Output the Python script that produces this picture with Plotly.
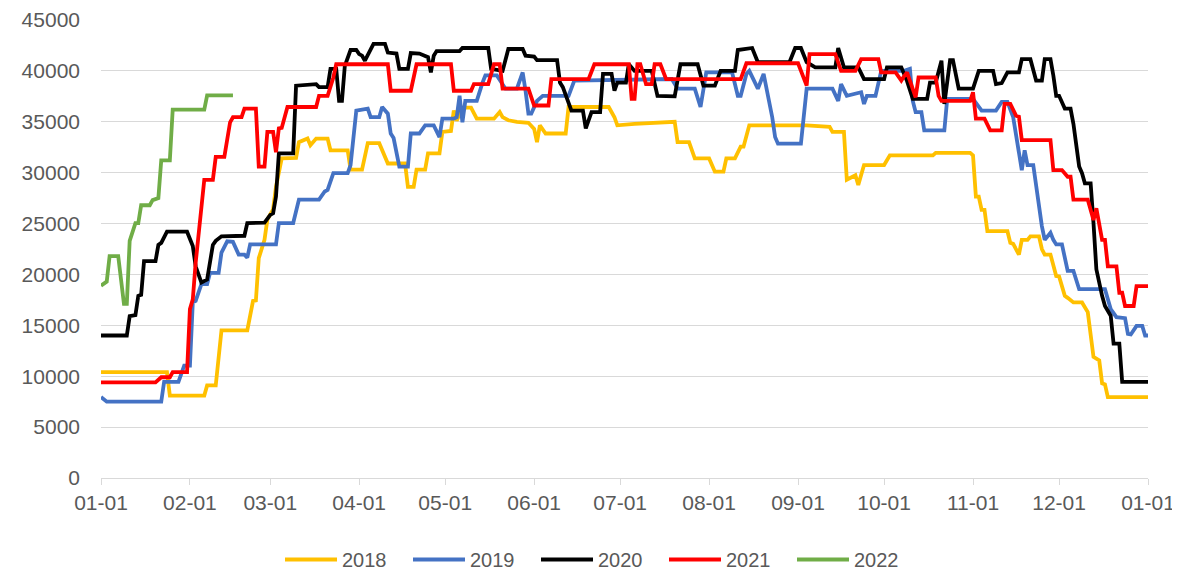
import plotly.graph_objects as go

# ---- data (day of year offset from 01-01, values) ----
month_days = [0, 31, 59, 90, 120, 151, 181, 212, 243, 273, 304, 334, 365]
month_labels = ["01-01", "02-01", "03-01", "04-01", "05-01", "06-01", "07-01",
                "08-01", "09-01", "10-01", "11-01", "12-01", "01-01"]

d2018 = [0,23,24,36,37,40,42,51,53,54,55,57,58,60,61,63,68,69,72,73,75,79,80,86,87,91,93,97,100,106,107,109,110,113,114,118,119,
         122,123,124,126,129,131,137,139,140,142,145,149,151,152,153,155,162,163,169,174,177,179,180,186,196,200,201,205,207,212,214,217,218,
         221,223,224,226,246,254,255,259,260,263,264,266,273,275,290,291,303,304,305,306,307,308,309,316,317,318,320,321,323,324,
         327,328,329,331,333,334,336,337,339,342,344,346,348,349,350,351,365]
v2018 = [10400,10400,8100,8100,9100,9100,14500,14500,17400,17450,21600,23400,25400,26400,28600,31400,31450,33000,33350,32700,
         33350,33350,32200,32200,30300,30300,32900,32900,30900,30900,28600,28600,30300,30300,31900,31900,34000,34100,36100,35100,
         36400,36400,35300,35300,35950,35450,35150,35000,34900,34300,33000,34650,33850,33850,36450,36450,36500,36450,35450,34650,
         34800,35000,35000,33000,33000,31400,31400,30100,30100,31400,31400,32550,32550,34650,34650,34500,34000,34000,29300,29750,
         28800,30750,30750,31700,31700,31950,31950,31700,27650,27650,26350,26350,24250,24250,23100,23000,21950,23400,23400,23750,
         23750,22500,21950,21950,19850,19800,17900,17700,17250,17250,16300,11900,11550,9300,9200,7950,7950]

d2019 = [0,2,21,22,27,29,31,32,33,35,37,38,41,42,44,46,48,50,51,52,61,62,67,69,76,78,79,81,86,87,89,93,94,97,98,100,101,102,104,107,
         108,111,113,116,118,119,123,124,125,126,127,131,133,134,138,141,145,147,148,149,150,152,154,163,165,199,201,207,209,210,
         211,220,222,223,225,226,229,231,232,234,235,236,244,246,255,257,258,260,265,266,267,270,272,280,282,283,284,286,287,294,
         295,304,307,312,314,316,318,320,321,322,323,325,327,328,329,331,332,333,335,337,339,341,350,352,354,357,358,359,361,363,364,365]
v2019 = [7950,7500,7500,9450,9450,11050,11050,17250,17400,19050,19050,20150,20150,22150,23250,23200,21950,21950,21650,22950,
         22950,25050,25050,27350,27350,28150,28300,29950,29950,30750,36100,36300,35450,35450,36450,35800,33850,33400,30600,30600,
         33850,33850,34650,34650,33500,35300,35300,35450,37550,34950,37050,37050,38850,39550,39550,38250,38250,39850,38050,35800,
         35800,37050,37550,37550,39050,39200,38250,38250,36450,38400,39850,39850,37550,37550,39700,40000,38250,39700,38400,35450,
         33500,32850,32850,38250,38250,37050,38700,37550,37900,36750,37550,37550,40000,40000,40200,37050,35950,35950,34150,34150,
         37250,37250,36100,36100,36950,36950,35450,32200,30250,32200,30750,30750,26700,24750,23400,24100,23400,22950,22950,20350,
         20350,18550,18550,16600,15800,15700,14150,14100,14950,14950,14000,14000]

d2020 = [0,9,10,12,13,14,15,19,20,21,23,30,32,33,35,37,39,40,42,50,51,54,57,59,60,61,62,67,68,75,76,79,80,82,83,84,85,87,89,90,
         91,92,95,99,100,103,104,107,108,111,114,115,116,117,125,126,135,136,140,142,147,148,151,152,159,160,161,164,168,169,
         171,174,175,178,179,180,183,184,186,192,194,200,202,208,210,214,216,221,222,227,229,240,242,244,246,249,256,257,259,264,
         266,273,274,279,281,283,288,289,291,293,294,296,297,299,304,306,311,312,314,316,320,321,324,326,328,329,331,332,333,334,
         336,338,339,341,342,343,345,346,347,349,350,352,353,355,356,365]
v2020 = [14000,14000,15900,16000,17900,18000,21300,21300,22900,23100,24200,24200,22800,20800,19200,19500,22900,23300,23750,23800,
         25050,25100,25100,25850,26000,27650,31900,31900,38550,38700,38400,38400,40200,40200,37050,37050,40500,42050,42050,41650,
         41500,41000,42650,42650,41800,41700,40200,40200,41750,41700,41350,39850,41500,41950,41950,42250,42250,40200,40000,42150,
         42150,41500,41400,41050,41050,38850,38400,36100,36100,34350,35950,35950,39700,39700,38050,38850,38850,40650,40000,40000,
         37550,37500,40650,40650,38550,38550,40000,40000,42050,42250,40850,40850,42250,42250,40850,40350,40350,42250,40350,40350,
         39200,39200,40350,40350,39000,37250,37250,38850,38850,41000,36750,41050,41050,38250,38250,40000,40000,38700,38800,39850,
         39850,41150,41150,39050,39050,41150,41150,39550,37550,37550,36300,36300,34800,30600,29950,28950,28950,25050,20500,17900,
         16900,15950,13200,13200,9450,9450]

d2021 = [0,19,21,24,25,30,31,32,33,35,36,39,40,43,45,46,49,50,54,55,57,58,60,61,62,63,65,75,76,79,81,82,100,101,108,110,122,123,129,130,
         135,137,139,140,149,151,156,157,170,172,184,185,186,187,188,190,192,193,195,197,223,225,243,246,247,256,258,263,265,271,
         272,277,279,280,281,284,285,291,292,293,303,304,305,308,310,314,315,317,319,320,321,331,332,335,337,338,339,344,346,347,
         349,350,351,354,355,356,357,360,361,365]
v2021 = [9400,9400,9900,9900,10400,10400,16600,17550,21150,27000,29300,29300,31550,31550,34950,35450,35450,36300,36300,30600,
         30600,34000,34000,32000,34350,34400,36450,36450,37550,37550,39350,40650,40650,38050,38050,40650,40650,38050,38050,38700,
         38700,40650,40650,38250,38250,36600,36600,39200,39200,40650,40650,37250,37250,40650,40650,38700,38700,40650,40650,39200,
         39200,40750,40750,38550,41650,41650,40000,40000,41150,41150,39850,39850,39050,39500,39850,37400,39350,39350,37550,37050,
         37050,37900,35300,35300,34150,34150,36750,36750,35600,35500,33200,33200,30250,30250,29600,29600,27350,27350,25350,26500,
         23400,23400,20800,20800,18200,18200,16900,16900,18850,18850]

d2022 = [0,2,3,6,8,9,10,12,13,14,17,18,20,21,24,25,36,37,46]
v2022 = [18900,19300,21800,21800,17100,17100,23300,25050,25050,26800,26800,27300,27500,31200,31200,36200,36200,37600,37600]

series = [
    ("2018", d2018, v2018, "#FFC000"),
    ("2019", d2019, v2019, "#4472C4"),
    ("2020", d2020, v2020, "#000000"),
    ("2021", d2021, v2021, "#FF0000"),
    ("2022", d2022, v2022, "#70AD47"),
]

FONT = "Liberation Sans, Arial, sans-serif"
TXT = "#595959"
GRID = "#D9D9D9"

fig = go.Figure()
for name, d, v, c in series:
    fig.add_trace(go.Scatter(x=d, y=v, name=name, mode="lines",
                             line=dict(color=c, width=3.8), hoverinfo="skip"))

fig.update_layout(
    width=1172, height=565,
    margin=dict(l=93, r=32, t=12, b=95, autoexpand=False),
    paper_bgcolor="white", plot_bgcolor="white",
    font=dict(family=FONT, color=TXT, size=21),
    showlegend=True,
    legend=dict(orientation="h", x=0.4766, xanchor="center", y=-0.178, yanchor="middle",
                font=dict(family=FONT, size=20, color=TXT), itemwidth=52,
                entrywidth=61, entrywidthmode="pixels", bgcolor="rgba(0,0,0,0)"),
)
fig.update_xaxes(range=[0, 365], tickmode="array", tickvals=month_days, ticktext=month_labels,
                 showgrid=False, zeroline=False, showline=True, linecolor=GRID, linewidth=1.3,
                 ticks="outside", ticklen=6, tickcolor=GRID, tickwidth=1.3,
                 tickfont=dict(family=FONT, size=21, color=TXT))
fig.update_yaxes(range=[0, 45000], dtick=5000, tick0=0, tickformat="d",
                 showgrid=True, gridcolor=GRID, gridwidth=1.3, zeroline=False, showline=False,
                 ticks="", ticklabelstandoff=20,
                 tickfont=dict(family=FONT, size=21, color=TXT))

fig.write_html("out.html")
